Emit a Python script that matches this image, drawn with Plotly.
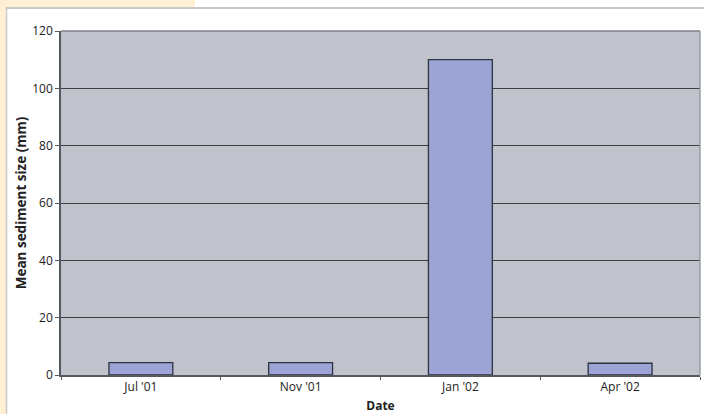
import plotly.graph_objects as go

dates = ["Jul '01", "Nov '01", "Jan '02", "Apr '02"]
sediment_mm = [4.3, 4.3, 110, 4.1]
y_ticks = [0, 20, 40, 60, 80, 100, 120]

fig = go.Figure()
fig.add_trace(go.Bar(
    x=dates, y=sediment_mm, width=0.4,
    marker=dict(color="#9BA4D4", line=dict(color="#2E3340", width=1.3)),
))

L, R, T, B = 61, 4, 31, 39
W, H = 704, 414
pw, ph = W - L - R, H - T - B

def px(x):
    return (x - L) / pw

def py(y):
    return (H - B - y) / ph

beige = "#FFF0D4"
shapes = [
    dict(type="rect", xref="paper", yref="paper", x0=px(-5), x1=px(195), y0=py(7), y1=py(-5),
         fillcolor=beige, line=dict(width=0), layer="below"),
    dict(type="rect", xref="paper", yref="paper", x0=px(-5), x1=px(6), y0=py(420), y1=py(-5),
         fillcolor=beige, line=dict(width=0), layer="below"),
    dict(type="line", xref="paper", yref="paper", x0=px(6), x1=px(710), y0=py(8), y1=py(8),
         line=dict(color="#C8C8C8", width=2), layer="above"),
    dict(type="line", xref="paper", yref="paper", x0=px(6.5), x1=px(6.5), y0=py(7), y1=py(420),
         line=dict(color="#C8C8C8", width=1.5), layer="above"),
    dict(type="line", xref="paper", yref="paper", x0=1, x1=1, y0=0, y1=1,
         line=dict(color="#9A9EA6", width=1.5)),
    dict(type="line", xref="paper", yref="paper", x0=0, x1=1, y0=1, y1=1,
         line=dict(color="#7E828A", width=1.5)),
]

fig.update_layout(
    width=W, height=H,
    margin=dict(l=L, r=R, t=T, b=B),
    paper_bgcolor="white",
    plot_bgcolor="#C0C3CB",
    showlegend=False,
    font=dict(family="Open Sans", size=12, color="#222222"),
    shapes=shapes,
    xaxis=dict(
        type="category", automargin=False,
        showline=True, linecolor="#55585F", linewidth=1.5,
        ticks="outside", tickson="boundaries", ticklen=3, tickcolor="#55585F",
        tickfont=dict(size=12),
        title=dict(text="<b>Date</b>", font=dict(size=12), standoff=7),
        showgrid=False,
    ),
    yaxis=dict(
        range=[0, 120], tickvals=y_ticks, automargin=False,
        showline=True, linecolor="#55585F", linewidth=1.5,
        ticks="outside", ticklen=4, tickcolor="#55585F",
        tickfont=dict(size=12),
        showgrid=True, gridcolor="#3A3D44", gridwidth=1,
        zeroline=False,
        title=dict(text="<b>Mean sediment size (mm)</b>", font=dict(size=13.5), standoff=3),
    ),
)

fig.write_html(
    "out.html",
    config={"displayModeBar": False},
    post_script="document.body.style.margin='0';document.body.style.overflow='hidden';",
)
